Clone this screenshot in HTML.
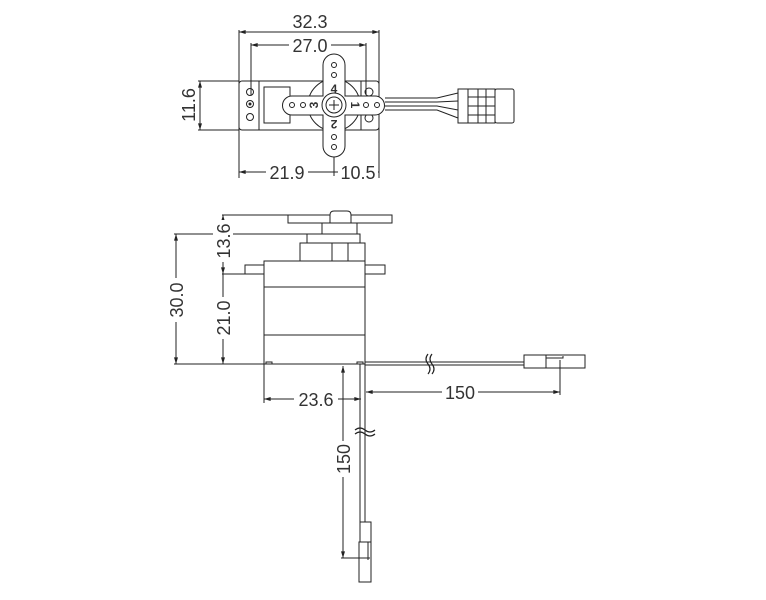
<!DOCTYPE html>
<html><head><meta charset="utf-8"><style>
html,body{margin:0;padding:0;background:#fff;}
svg{display:block;}
text{font-family:"Liberation Sans",sans-serif;font-size:18px;fill:#333;}
</style></head><body>
<svg width="766" height="600" viewBox="0 0 766 600" xmlns="http://www.w3.org/2000/svg">
<defs>
<marker id="a" viewBox="0 0 10 6" refX="10" refY="3" markerWidth="8" markerHeight="4" orient="auto-start-reverse"><path d="M0,0L10,3L0,6z" fill="#222"/></marker>
</defs>
<g stroke="#222" stroke-width="1" fill="none">
<line x1="239" y1="30" x2="239" y2="178"/>
<line x1="379" y1="30" x2="379" y2="178"/>
<line x1="239" y1="32" x2="379" y2="32" marker-start="url(#a)" marker-end="url(#a)"/>
<line x1="251" y1="43" x2="251" y2="95"/>
<line x1="366" y1="43" x2="366" y2="95"/>
<line x1="251" y1="45" x2="366" y2="45" marker-start="url(#a)" marker-end="url(#a)"/>
<line x1="198" y1="81" x2="239" y2="81"/>
<line x1="198" y1="130" x2="239" y2="130"/>
<line x1="200" y1="81" x2="200" y2="130" marker-start="url(#a)" marker-end="url(#a)"/>
<line x1="239" y1="172" x2="379" y2="172" marker-start="url(#a)" marker-end="url(#a)"/>
<line x1="334" y1="157" x2="334" y2="176"/>
<rect x="239" y="81" width="140" height="49" rx="3"/>
<line x1="259" y1="81" x2="259" y2="130"/>
<line x1="361" y1="81" x2="361" y2="130"/>
<rect x="264" y="87" width="26" height="36"/>
<circle cx="250" cy="92" r="3.5"/><circle cx="250" cy="104" r="3.5"/><circle cx="250" cy="117" r="3.5"/>
<circle cx="250" cy="104" r="1" fill="#222"/>
<circle cx="369" cy="92" r="4"/><circle cx="369" cy="118" r="4"/>
<circle cx="334" cy="105" r="26"/>
<path d="M385,98 H437 L458,93 M385,102 H437 L458,101 M385,106 H437 L458,110 M385,110 H437 L458,118"/>
<rect x="458" y="89" width="10" height="34" fill="#fff"/>
<rect x="468" y="89" width="27" height="34" fill="#fff"/>
<line x1="468" y1="97" x2="495" y2="97"/><line x1="468" y1="106" x2="495" y2="106"/><line x1="468" y1="115" x2="495" y2="115"/>
<line x1="478" y1="89" x2="478" y2="123"/><line x1="486" y1="89" x2="486" y2="123"/>
<rect x="495" y="89" width="19" height="34" rx="2" fill="#fff"/>
<path d="M334,54 a11,11 0 0 1 11,11 V96 H375 a9.5,9.5 0 0 1 0,19 H345 V146 a11,11 0 0 1 -22,0 V115 H292 a9.5,9.5 0 0 1 0,-19 H323 V65 a11,11 0 0 1 11,-11 z" fill="#fff"/>
<circle cx="334" cy="105" r="12"/><circle cx="334" cy="105" r="8"/>
<path d="M329,105 H339 M334,100 V110"/>
<circle cx="334" cy="65" r="2.5"/><circle cx="334" cy="75" r="2.5"/>
<circle cx="334" cy="137" r="2.5"/><circle cx="334" cy="147" r="2.5"/>
<circle cx="292" cy="105" r="2.5"/><circle cx="303" cy="105" r="2.5"/>
<circle cx="366" cy="105" r="2.5"/><circle cx="377" cy="105" r="2.5"/>

<line x1="222" y1="215" x2="288" y2="215"/>
<line x1="174" y1="234" x2="322" y2="234"/>
<line x1="222" y1="274" x2="245" y2="274"/>
<line x1="174" y1="364" x2="264" y2="364"/>
<line x1="176" y1="234" x2="176" y2="364" marker-start="url(#a)" marker-end="url(#a)"/>
<line x1="223" y1="215" x2="223" y2="274" marker-start="url(#a)" marker-end="url(#a)"/>
<line x1="223" y1="274" x2="223" y2="364" marker-end="url(#a)"/>
<rect x="288" y="215" width="104" height="8"/>
<path d="M330,223 V215 Q330,211 334,211 H347 Q351,211 351,215 V223" fill="#fff"/>
<rect x="322" y="223" width="35" height="11"/>
<rect x="307" y="234" width="53" height="9"/>
<rect x="300" y="243" width="65" height="18"/>
<line x1="332" y1="243" x2="332" y2="261"/><line x1="348" y1="243" x2="348" y2="261"/>
<rect x="245" y="265" width="140" height="9"/>
<rect x="264" y="261" width="101" height="103" fill="#fff"/>
<line x1="264" y1="287" x2="365" y2="287"/>
<line x1="264" y1="335" x2="365" y2="335"/>
<rect x="266" y="362" width="6" height="2"/><rect x="357" y="362" width="6" height="2"/>
<path d="M365,362 H524 M365,365 H524"/>
<rect x="524" y="355" width="22" height="13"/>
<rect x="546" y="355" width="39" height="13"/>
<path d="M546,358 H563 V356"/>
<path d="M428,354 q-4,5 0,10 q4,5 0,10 M432,354 q-4,5 0,10 q4,5 0,10" stroke-width="1.2"/>
<path d="M360,364 V522 M365,364 V522"/>
<rect x="360" y="522" width="11" height="20"/>
<rect x="359" y="542" width="12" height="40"/>
<line x1="368" y1="542" x2="368" y2="560"/>
<path d="M355,430 q5,-4 10,0 q5,4 10,0 M355,434 q5,-4 10,0 q5,4 10,0" stroke-width="1.2"/>
<line x1="264" y1="364" x2="264" y2="403"/>
<line x1="264" y1="399" x2="361" y2="399" marker-start="url(#a)" marker-end="url(#a)"/>
<line x1="560" y1="360" x2="560" y2="395"/>
<line x1="366" y1="392" x2="560" y2="392" marker-start="url(#a)" marker-end="url(#a)"/>
<line x1="343" y1="366" x2="343" y2="558" marker-start="url(#a)" marker-end="url(#a)"/>
<line x1="341" y1="558" x2="370" y2="558"/>
</g>
<g>
<text x="310" y="28" text-anchor="middle">32.3</text>
<rect x="289" y="38" width="42" height="14" fill="#fff"/>
<text x="310" y="52" text-anchor="middle">27.0</text>
<rect x="178" y="85" width="20" height="42" fill="#fff"/>
<text transform="translate(195,105) rotate(-90)" text-anchor="middle">11.6</text>
<rect x="266" y="165" width="42" height="14" fill="#fff"/>
<text x="287" y="179" text-anchor="middle">21.9</text>
<rect x="338" y="165" width="40" height="14" fill="#fff"/>
<text x="358" y="179" text-anchor="middle">10.5</text>
<text x="334" y="93" text-anchor="middle" font-weight="bold" style="font-size:12px">4</text>
<text transform="translate(314,105) rotate(-90)" text-anchor="middle" font-weight="bold" style="font-size:12px" dy="4">3</text>
<text transform="translate(355,105) rotate(90)" text-anchor="middle" font-weight="bold" style="font-size:12px" dy="4">1</text>
<text transform="translate(334,124) rotate(180)" text-anchor="middle" font-weight="bold" style="font-size:12px" dy="4">2</text>
<rect x="166" y="278" width="20" height="44" fill="#fff"/>
<text transform="translate(183,300) rotate(-90)" text-anchor="middle">30.0</text>
<rect x="213" y="220" width="20" height="42" fill="#fff"/>
<text transform="translate(230,241) rotate(-90)" text-anchor="middle">13.6</text>
<rect x="213" y="297" width="20" height="42" fill="#fff"/>
<text transform="translate(230,318) rotate(-90)" text-anchor="middle">21.0</text>
<rect x="294" y="392" width="44" height="14" fill="#fff"/>
<text x="316" y="406" text-anchor="middle">23.6</text>
<rect x="442" y="385" width="36" height="14" fill="#fff"/>
<text x="460" y="399" text-anchor="middle">150</text>
<rect x="333" y="441" width="20" height="36" fill="#fff"/>
<text transform="translate(350,459) rotate(-90)" text-anchor="middle">150</text>
</g>
</svg>
</body></html>
